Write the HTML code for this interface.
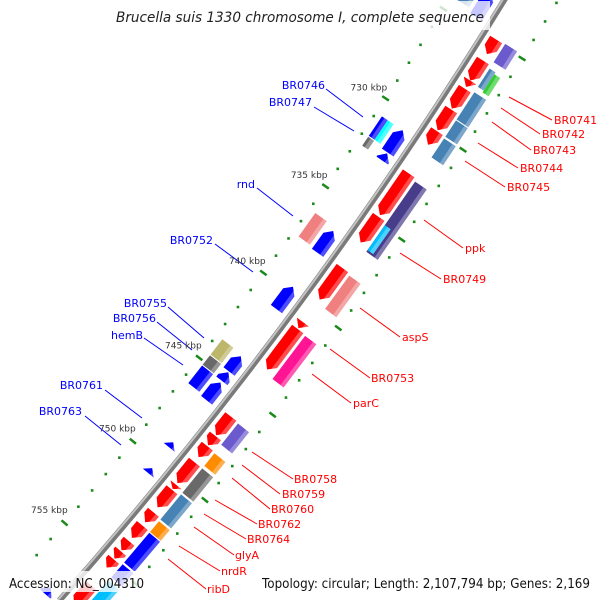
<!DOCTYPE html>
<html><head><meta charset="utf-8"><style>
html,body{margin:0;padding:0;background:#fff;width:600px;height:600px;overflow:hidden;}
svg{display:block;overflow:hidden;}
text{font-family:"DejaVu Sans","Liberation Sans",sans-serif;}
</style></head><body>
<svg id="map" width="600" height="600" viewBox="0 0 600 600" xmlns="http://www.w3.org/2000/svg">
<g id="backbone"></g>
<g id="ticks"></g>
<g id="genes"></g>
<g id="labels" font-size="11">
<g stroke="#ff0000" stroke-width="1">
<line x1="509" y1="97" x2="552" y2="120"/><line x1="501" y1="108" x2="540" y2="134"/>
<line x1="492" y1="122" x2="531" y2="150"/><line x1="478" y1="143" x2="518" y2="168"/>
<line x1="465" y1="161" x2="505" y2="187"/><line x1="424" y1="220" x2="463" y2="248"/>
<line x1="400" y1="253" x2="441" y2="279"/><line x1="360" y1="308" x2="400" y2="337"/>
<line x1="330" y1="349" x2="370" y2="378"/><line x1="312" y1="374" x2="351" y2="403"/>
<line x1="252" y1="452" x2="293" y2="479"/><line x1="242" y1="465" x2="280" y2="494"/>
<line x1="232" y1="478" x2="270" y2="509"/><line x1="215" y1="500" x2="257" y2="524"/>
<line x1="204" y1="514" x2="246" y2="539"/><line x1="194" y1="527" x2="234" y2="555"/>
<line x1="179" y1="546" x2="220" y2="571"/><line x1="168" y1="559" x2="206" y2="589"/>
</g>
<g fill="#ff0000">
<text x="554" y="124">BR0741</text>
<text x="542" y="138">BR0742</text>
<text x="533" y="154">BR0743</text>
<text x="520" y="172">BR0744</text>
<text x="507" y="191">BR0745</text>
<text x="465" y="252">ppk</text>
<text x="443" y="283">BR0749</text>
<text x="402" y="341">aspS</text>
<text x="371" y="382">BR0753</text>
<text x="353" y="407">parC</text>
<text x="294" y="483">BR0758</text>
<text x="282" y="498">BR0759</text>
<text x="271" y="513">BR0760</text>
<text x="258" y="528">BR0762</text>
<text x="247" y="543">BR0764</text>
<text x="235" y="559">glyA</text>
<text x="221" y="575">nrdR</text>
<text x="207" y="593">ribD</text>
</g>
<g stroke="#0000ff" stroke-width="1">
<line x1="326" y1="89" x2="363" y2="117"/><line x1="314" y1="107" x2="354" y2="131"/>
<line x1="257" y1="188" x2="293" y2="216"/><line x1="215" y1="244" x2="253" y2="272"/>
<line x1="168" y1="307" x2="204" y2="338"/><line x1="157" y1="322" x2="192" y2="350"/>
<line x1="144" y1="338" x2="183" y2="365"/><line x1="105" y1="390" x2="142" y2="418"/>
<line x1="85" y1="416" x2="121" y2="445"/>
</g>
<g fill="#0000ff" text-anchor="end">
<text x="325" y="89">BR0746</text>
<text x="312" y="106">BR0747</text>
<text x="255" y="188">rnd</text>
<text x="213" y="244">BR0752</text>
<text x="167" y="307">BR0755</text>
<text x="156" y="322">BR0756</text>
<text x="143" y="339">hemB</text>
<text x="103" y="389">BR0761</text>
<text x="82" y="415">BR0763</text>
</g>
</g>
<g id="ticklabels"></g>
<rect x="108" y="1" width="382" height="29" fill="#fff" fill-opacity="0.78"/>
<text x="116" y="22" font-size="14" font-style="italic" fill="#222" textLength="368" lengthAdjust="spacingAndGlyphs">Brucella suis 1330 chromosome I, complete sequence</text>
<rect x="4" y="571" width="144" height="21" fill="#fff" fill-opacity="0.8"/>
<text x="9" y="588" font-size="13" fill="#111" textLength="135" lengthAdjust="spacingAndGlyphs">Accession: NC_004310</text>
<text x="262" y="588" font-size="13" fill="#111" textLength="328" lengthAdjust="spacingAndGlyphs">Topology: circular; Length: 2,107,794 bp; Genes: 2,169</text>
</svg>
<script>
// data (kbp)
const tickKbp = [730, 735, 740, 745, 750, 755];
const tickLabels = ["730 kbp", "735 kbp", "740 kbp", "745 kbp", "750 kbp", "755 kbp"];
const geneStart = [724.9,726.05,727.15,727.6,728.75,729.95,732.3,734.75,737.65,740.75,741.15,746.25,747.4,748.0,748.95,750.3,750.6,751.95,752.75,753.7,754.3,754.8,756.4,
 724.85,726.2,726.3,727.5,729.05,730.05,732.45,734.9,737.75,741.2,746.3,748.05,748.95,750.5,752.1,752.8,754.7,755.7,
 723.2,730.8,732.1,736.5,739.7,743.75,744.7,745.3,748.85,750.4,757.7,
 723.5,730.8,730.8,731.95,736.3,743.65,744.6,745.2];
const geneEnd = [725.7,727.15,727.5,728.7,729.9,730.7,734.65,736.2,739.45,741.1,743.5,747.35,747.95,748.65,750.2,750.55,751.65,752.55,753.5,754.25,754.75,755.3,757.6,
 725.85,727.2,727.3,729.0,729.95,731.1,736.4,736.3,739.65,743.7,747.55,748.8,750.4,752.0,752.75,754.6,755.5,756.9,
 724.5,732.05,732.5,737.75,741.0,744.65,745.2,746.35,749.15,750.7,758.1,
 724.3,731.9,731.9,732.45,737.65,744.55,745.15,746.25];
const geneLane = ["R1","R1","R1","R1","R1","R1","R1","R1","R1","R1","R1","R1","R1","R1","R1","R1","R1","R1","R1","R1","R1","R1","R1",
 "R2","R2i","R2o","R2","R2","R2","R2","R2i","R2","R2","R2","R2","R2","R2","R2","R2","R2","R2",
 "L1","L1","L1","L1","L1","L1","L1","L1","L1","L1","L1",
 "L2","L2o","L2i","L2o","L2","L2","L2","L2"];
const geneClass = ["red","red","red","red","red","red","red","red","red","red","red","red","red","red","red","red","red","red","red","red","red","red","red",
 "slate","steel","green","steel","steel","steel","dslate","sky","salmon","pink","slate","orange","gray","steel","orange","blue","blue","sky",
 "blue","blue","blue","blue","blue","blue","blue","blue","blue","blue","blue",
 "steel","blue","cyan","gray","salmon","khaki","gray","blue"];
</script>
<script>
const NS="http://www.w3.org/2000/svg";
const CX=-3236, CY=-2306, R=4394, A0=33.58, DA=0.2808, K0=730;
function pt(k,n){const a=(A0+(k-K0)*DA)*Math.PI/180;return [CX+(R+n)*Math.cos(a), CY+(R+n)*Math.sin(a)];}
const COL={red:"#ff0000",blue:"#0000ff",steel:"#4682b4",green:"#32cd32",slate:"#6a5acd",dslate:"#483d8b",sky:"#00bfff",cyan:"#00ffff",salmon:"#f08080",pink:"#ff1493",orange:"#ff8c00",gray:"#696969",khaki:"#bdb76b"};
const LANE={R1:[7,21,1],R2:[24,38,0],R2i:[24,31,0],R2o:[31,38,0],L1:[-22,-8,-1],L2:[-40,-26,0],L2i:[-33,-26,0],L2o:[-40,-33,0]};
function el(tag,attrs,parent){const e=document.createElementNS(NS,tag);for(const k in attrs)e.setAttribute(k,attrs[k]);parent.appendChild(e);return e;}
function P(a){return a.map(p=>p[0].toFixed(1)+","+p[1].toFixed(1)).join(" ");}
const bb=document.getElementById("backbone");
function arc(n){const a=pt(722,n),b=pt(757.9,n);return "M"+a[0]+","+a[1]+" A"+(R+n)+","+(R+n)+" 0 0 1 "+b[0]+","+b[1];}
const b1=el("path",{d:arc(0),stroke:"#7a7a7a","stroke-width":6,fill:"none"},bb);


const b2=el("path",{d:arc(-1.5),stroke:"#c4c4c4","stroke-width":2,fill:"none"},bb);


const tg=document.getElementById("ticks");
for(let k=717;k<=757;k++){
  for(const side of [-47,46]){
    const c0=pt(k,side);
    if(c0[1]>597||c0[0]>597||c0[1]<2)continue;
    let m;
    if(k%5===0){const a=pt(k,side-4),b=pt(k,side+4);
      m=el("line",{x1:a[0],y1:a[1],x2:b[0],y2:b[1],stroke:"#1a8a1a","stroke-width":2.5},tg);
      
    } else {
      m=el("rect",{x:c0[0]-1.3,y:c0[1]-1.3,width:2.6,height:2.6,fill:"#1a8a1a"},tg);
      
    }
    
  }
}
const tl=document.getElementById("ticklabels");
tickKbp.forEach((k,i)=>{const c=pt(k,-67);
  const t=el("text",{x:c[0],y:c[1]+3,"font-size":"9","text-anchor":"middle",fill:"#333"},tl);
  t.textContent=tickLabels[i];
  
  
});
const gg=document.getElementById("genes");
const HEAD=0.33;
geneStart.forEach((s,i)=>{
  const e=geneEnd[i],L=LANE[geneLane[i]],col=COL[geneClass[i]];
  const n0=L[0],n1=L[1],dir=L[2],nm=(n0+n1)/2;
  let poly;
  if(dir===1){const h=Math.min(HEAD,e-s);poly=[pt(s,n0),pt(e-h,n0),pt(e,nm),pt(e-h,n1),pt(s,n1)];}
  else if(dir===-1){const h=Math.min(HEAD,e-s);poly=[pt(e,n0),pt(s+h,n0),pt(s,nm),pt(s+h,n1),pt(e,n1)];}
  else poly=[pt(s,n0),pt(e,n0),pt(e,n1),pt(s,n1)];
  const g=el("g",{},gg);
  
  
  el("polygon",{points:P(poly),fill:col},g);
  const ns=n1-4;let strip;
  if(dir===1){const h=Math.min(HEAD,e-s);strip=[pt(s,ns),pt(e-h*0.3,ns),pt(e-h,n1),pt(s,n1)];}
  else if(dir===-1){const h=Math.min(HEAD,e-s);strip=[pt(e,ns),pt(s+h*0.3,ns),pt(s+h,n1),pt(e,n1)];}
  else strip=[pt(s,ns),pt(e,ns),pt(e,n1),pt(s,n1)];
  el("polygon",{points:P(strip),fill:"#fff","fill-opacity":0.3},g);
});
</script>
</body></html>
